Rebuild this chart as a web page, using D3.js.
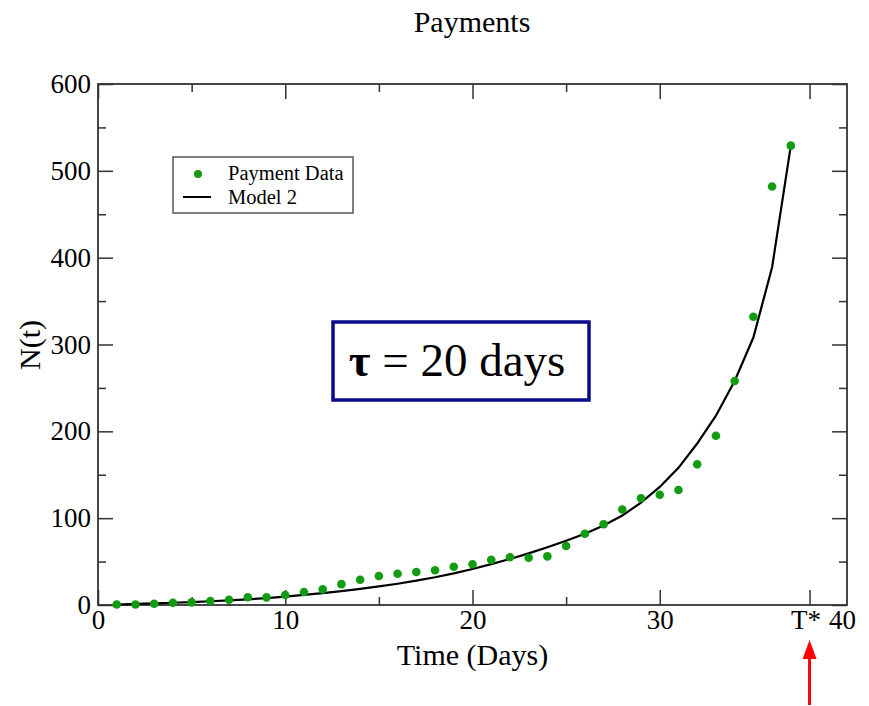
<!DOCTYPE html>
<html>
<head>
<meta charset="utf-8">
<script src="https://cdn.jsdelivr.net/npm/d3@7"></script>
<style>
  body { margin: 0; background: #fff; }
  svg { display: block; font-family: "Liberation Serif", "Times New Roman", serif; }
</style>
</head>
<body>
<svg width="869" height="706"></svg>
<script>
// дни наблюдений
const days = [1, 2, 3, 4, 5, 6, 7, 8, 9, 10, 11, 12, 13, 14, 15, 16, 17, 18, 19,
  20, 21, 22, 23, 24, 25, 26, 27, 28, 29, 30, 31, 32, 33, 34, 35, 36, 37];
// Payment Data (точки)
const payments = [0.5, 0.5, 1.5, 2.5, 3, 4.6, 6, 9, 8.8, 11.5, 15, 18, 24, 29, 33.4, 36, 38, 40, 44,
  47, 52, 55, 54.5, 56, 68, 82, 93, 110, 123, 127, 132.5, 162, 195, 258, 332, 482, 529];
// Model 2 (линия)
const model2 = [0.5, 1.2, 1.9, 2.6, 3.4, 4.3, 5.3, 6.5, 8, 9.7, 11.6, 13.7, 16, 18.6, 21.4, 24.5, 28, 32, 36.5,
  41.5, 47, 53, 59.5, 66.5, 74, 82, 91.5, 103, 118, 136, 158, 186, 218, 258, 308, 389, 529];

const xMajor = [0, 10, 20, 30, 38, 40];
const xMajorLabels = ["0", "10", "20", "30", "T*", "40"];
const xMinor = [5, 15, 25];
const yMajor = [0, 100, 200, 300, 400, 500, 600];
const yMinor = [50, 150, 250, 350, 450, 550];
const tStar = 38;

const svg = d3.select("svg");
const x = d3.scaleLinear().domain([0, 40]).range([98, 847]);
const y = d3.scaleLinear().domain([0, 600]).range([605, 84]);
const green = "#129c12";
const frameColor = "#333";

// заголовок
svg.append("text").attr("x", 472).attr("y", 32).attr("text-anchor", "middle")
  .attr("font-size", 30).text("Payments");

// оси
function styleAxis(g, fs) {
  g.select(".domain").remove();
  g.selectAll(".tick line").attr("stroke", frameColor).attr("stroke-width", 1.5);
  g.selectAll(".tick text").attr("font-family", "Liberation Serif, serif").attr("font-size", fs).attr("fill", "#000");
}

const bottom = svg.append("g").attr("transform", `translate(0,${y(0)})`)
  .call(d3.axisBottom(x).tickValues(xMajor).tickFormat((d, i) => xMajorLabels[i])
    .tickSizeInner(-15).tickSizeOuter(0).tickPadding(5));
styleAxis(bottom, 27);
bottom.selectAll(".tick").filter(d => d === 40).select("line").remove();
bottom.selectAll(".tick").filter(d => d === 40).select("text").attr("dx", -5);
bottom.selectAll(".tick").filter(d => d === 38).select("text").attr("dx", -4);

svg.append("g").attr("transform", `translate(0,${y(0)})`)
  .call(d3.axisBottom(x).tickValues(xMinor).tickFormat("").tickSizeInner(-8).tickSizeOuter(0))
  .call(g => styleAxis(g, 27));

svg.append("g").attr("transform", `translate(0,${y(600)})`)
  .call(d3.axisTop(x).tickValues(xMajor.filter(d => d !== 40)).tickFormat("").tickSizeInner(-15).tickSizeOuter(0))
  .call(g => styleAxis(g, 27));
svg.append("g").attr("transform", `translate(0,${y(600)})`)
  .call(d3.axisTop(x).tickValues(xMinor).tickFormat("").tickSizeInner(-8).tickSizeOuter(0))
  .call(g => styleAxis(g, 27));

const left = svg.append("g").attr("transform", `translate(${x(0)},0)`)
  .call(d3.axisLeft(y).tickValues(yMajor).tickFormat(d3.format("d"))
    .tickSizeInner(-15).tickSizeOuter(0).tickPadding(7));
styleAxis(left, 27);

svg.append("g").attr("transform", `translate(${x(0)},0)`)
  .call(d3.axisLeft(y).tickValues(yMinor).tickFormat("").tickSizeInner(-8).tickSizeOuter(0))
  .call(g => styleAxis(g, 27));
svg.append("g").attr("transform", `translate(${x(40)},0)`)
  .call(d3.axisRight(y).tickValues(yMajor).tickFormat("").tickSizeInner(-15).tickSizeOuter(0))
  .call(g => styleAxis(g, 27));
svg.append("g").attr("transform", `translate(${x(40)},0)`)
  .call(d3.axisRight(y).tickValues(yMinor).tickFormat("").tickSizeInner(-8).tickSizeOuter(0))
  .call(g => styleAxis(g, 27));

// рамка
svg.append("rect").attr("x", x(0)).attr("y", y(600))
  .attr("width", x(40) - x(0)).attr("height", y(0) - y(600))
  .attr("fill", "none").attr("stroke", frameColor).attr("stroke-width", 1.8);

// подписи осей
svg.append("text").attr("x", x(20)).attr("y", 665).attr("text-anchor", "middle")
  .attr("font-size", 30).text("Time (Days)");
svg.append("text").attr("transform", "translate(40,345) rotate(-90)").attr("text-anchor", "middle")
  .attr("font-size", 30).text("N(t)");

// модель
const line = d3.line().x((d, i) => x(days[i])).y(d => y(d));
svg.append("path").attr("d", line(model2))
  .attr("fill", "none").attr("stroke", "#000").attr("stroke-width", 2.2);

// точки
svg.append("g").selectAll("circle").data(payments).join("circle")
  .attr("cx", (d, i) => x(days[i])).attr("cy", d => y(d)).attr("r", 4.3)
  .attr("fill", green);

// легенда
svg.append("rect").attr("x", 173).attr("y", 157).attr("width", 180).attr("height", 56)
  .attr("fill", "#fff").attr("stroke", "#555").attr("stroke-width", 1.5);
svg.append("circle").attr("cx", 198).attr("cy", 174).attr("r", 4).attr("fill", green);
svg.append("text").attr("x", 228).attr("y", 180).attr("font-size", 20.5).text("Payment Data");
svg.append("line").attr("x1", 183).attr("x2", 211).attr("y1", 197).attr("y2", 197)
  .attr("stroke", "#000").attr("stroke-width", 2);
svg.append("text").attr("x", 228).attr("y", 204).attr("font-size", 20.5).text("Model 2");

// τ
svg.append("rect").attr("x", 333).attr("y", 322).attr("width", 256).attr("height", 78)
  .attr("fill", "#fff").attr("stroke", "#0a0a8c").attr("stroke-width", 3.5);
const tau = svg.append("text").attr("x", 457).attr("y", 376).attr("text-anchor", "middle")
  .attr("font-size", 47);
tau.append("tspan").attr("font-weight", "bold").text("τ");
tau.append("tspan").text(" = 20 days");

// стрелка T*
const ax = x(tStar);
svg.append("line").attr("x1", ax).attr("x2", ax).attr("y1", 655).attr("y2", 705)
  .attr("stroke", "#f00").attr("stroke-width", 3);
svg.append("path").attr("d", `M${ax},640 L${ax - 7},659 L${ax + 7},659 Z`).attr("fill", "#f00");
</script>
</body>
</html>
